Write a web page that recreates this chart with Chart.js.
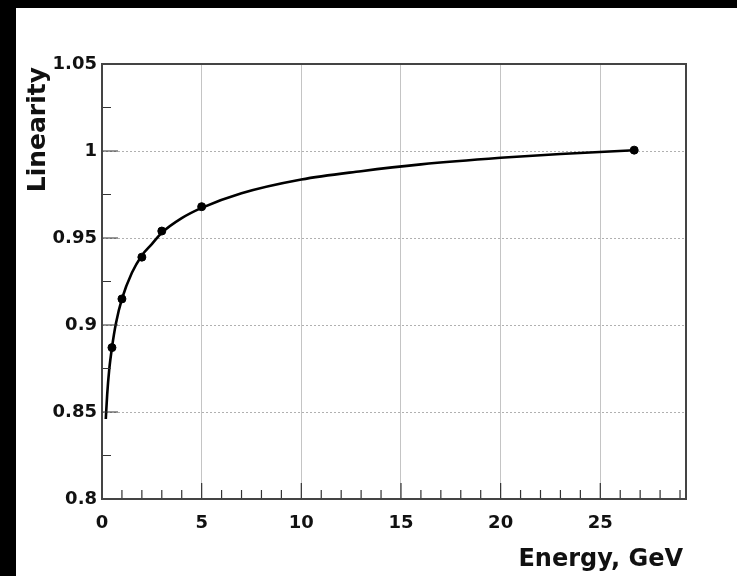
<!DOCTYPE html>
<html lang="en">
<head>
    <meta charset="UTF-8">
    <title>Linearity vs Energy</title>
    <script src="https://cdn.jsdelivr.net/npm/chart.js"></script>
    <style>
        body {
            margin: 0;
            background-color: #000;
            width: 737px;
            height: 576px;
            overflow: hidden;
        }
        .frame {
            position: absolute;
            left: 16px;
            top: 8px;
            width: 721px;
            height: 568px;
            background: #fff;
        }
    </style>
</head>
<body>
    <div class="frame">
        <canvas id="linChart" width="721" height="568"></canvas>
    </div>
    <script>
        // measured points
        const energy = [0.5, 1, 2, 3, 5, 26.7];
        const linearity = [0.887, 0.915, 0.939, 0.954, 0.968, 1.0005];

        // fit curve, read along its length
        const fitEnergy = [0.19, 0.26, 0.36, 0.5, 0.7, 1, 1.5, 2, 2.5, 3, 4, 5, 7, 10, 13, 16, 20, 23, 26.7];
        const fitLinearity = [0.846, 0.860, 0.874, 0.887, 0.901, 0.915, 0.930, 0.940, 0.9465, 0.953, 0.9614, 0.9673, 0.9757, 0.9836, 0.9884, 0.9923, 0.9961, 0.9983, 1.0004];

        const xMajor = [0, 5, 10, 15, 20, 25];
        const yMajor = [0.8, 0.85, 0.9, 0.95, 1, 1.05];

        const FONT = '"DejaVu Sans", sans-serif';

        // inner tick marks, frame and axis titles
        const frameDecor = {
            id: 'frameDecor',
            afterDatasetsDraw(chart) {
                const { ctx, chartArea: a, scales: { x, y } } = chart;
                ctx.save();
                ctx.strokeStyle = '#333';
                ctx.lineWidth = 1.2;
                ctx.beginPath();
                for (let e = 1; e <= 29; e++) {
                    const px = x.getPixelForValue(e);
                    const len = xMajor.includes(e) ? 16 : 9;
                    ctx.moveTo(px, a.bottom);
                    ctx.lineTo(px, a.bottom - len);
                }
                for (let i = 0; i <= 10; i++) {
                    const v = 0.8 + i * 0.025;
                    const py = y.getPixelForValue(v);
                    const len = i % 2 === 0 ? 16 : 9;
                    ctx.moveTo(a.left, py);
                    ctx.lineTo(a.left + len, py);
                }
                ctx.stroke();

                ctx.strokeStyle = '#444';
                ctx.lineWidth = 2;
                ctx.strokeRect(a.left, a.top, a.right - a.left, a.bottom - a.top);

                ctx.fillStyle = '#111';
                ctx.font = 'bold 24px ' + FONT;
                ctx.textAlign = 'right';
                ctx.textBaseline = 'middle';
                ctx.fillText('Energy, GeV', a.right - 3, 552);

                ctx.font = 'bold 25px ' + FONT;
                ctx.translate(22, a.top + 3);
                ctx.rotate(-Math.PI / 2);
                ctx.fillText('Linearity', 0, 0);
                ctx.restore();
            }
        };

        const ctx = document.getElementById('linChart').getContext('2d');
        new Chart(ctx, {
            type: 'scatter',
            data: {
                datasets: [
                    {
                        label: 'fit',
                        data: fitEnergy.map((e, i) => ({ x: e, y: fitLinearity[i] })),
                        showLine: true,
                        borderColor: '#000',
                        borderWidth: 2.6,
                        pointRadius: 0,
                        cubicInterpolationMode: 'monotone'
                    },
                    {
                        label: 'data',
                        data: energy.map((e, i) => ({ x: e, y: linearity[i] })),
                        backgroundColor: '#000',
                        borderColor: '#000',
                        pointRadius: 4,
                        pointStyle: 'circle'
                    }
                ]
            },
            options: {
                responsive: false,
                devicePixelRatio: 1,
                animation: false,
                layout: { padding: { left: 0, top: 56, right: 51, bottom: 0 } },
                plugins: {
                    legend: { display: false },
                    tooltip: { enabled: false }
                },
                scales: {
                    x: {
                        type: 'linear',
                        min: 0,
                        max: 29.3,
                        afterFit: s => { s.height = 77; },
                        ticks: {
                            stepSize: 5,
                            includeBounds: false,
                            padding: 14,
                            color: '#111',
                            font: { family: FONT, size: 18, weight: 'bold' }
                        },
                        grid: { color: '#c4c4c4', lineWidth: 1, drawTicks: false },
                        border: { display: false }
                    },
                    y: {
                        type: 'linear',
                        min: 0.8,
                        max: 1.05,
                        afterFit: s => { s.width = 86; },
                        ticks: {
                            stepSize: 0.05,
                            padding: 5,
                            color: '#111',
                            font: { family: FONT, size: 18, weight: 'bold' },
                            callback: v => String(parseFloat(v.toFixed(2)))
                        },
                        grid: { color: '#b0b0b0', lineWidth: 1, drawTicks: false },
                        border: { display: false, dash: [2, 2] }
                    }
                }
            },
            plugins: [frameDecor]
        });
    </script>
</body>
</html>
